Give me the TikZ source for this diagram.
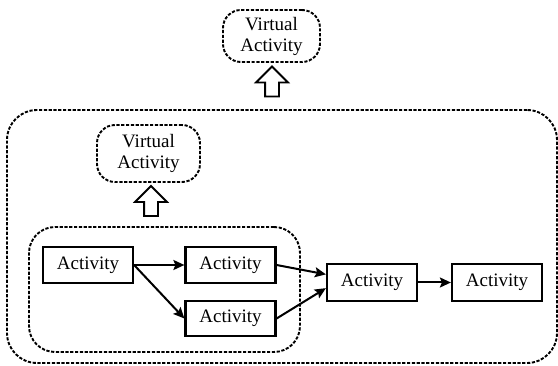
\documentclass[tikz,border=0pt]{standalone}
\usepackage{fontspec}
\setmainfont{Liberation Serif}
\usepackage{tikz}
\usetikzlibrary{
    arrows.meta,
    shapes.arrows
}
\tikzset{
  act/.style    = {draw, line width=2.2pt, minimum width=90pt,
                   minimum height=36pt, inner sep=0pt},
  vact/.style   = {draw, line width=1.9pt, dash pattern=on 3.2pt off 1.6pt,
                   rounded corners=18pt, align=center, inner sep=0pt},
  group/.style  = {draw, line width=1.9pt, dash pattern=on 3.2pt off 1.6pt,
                   inner sep=0pt},
  lift/.style   = {draw, line width=1.9pt, single arrow, shape border rotate=90,
                   minimum height=30pt, minimum width=30pt, inner sep=6pt,
                   single arrow head extend=9pt},
  arr/.style    = {-{Stealth[length=11pt,width=10pt,inset=2pt]}, line width=2pt}
}
\begin{document}
\begin{tikzpicture}[x=1pt, y=-1pt, font=\fontsize{19}{21}\selectfont]
\useasboundingbox (0,0) rectangle (558,366);
% outer group and the group inside it
\node[group, rounded corners=30pt, minimum width=550pt, minimum height=253pt] (outer) at (282,236.5) {};
\node[group, rounded corners=26pt, minimum width=271pt, minimum height=125pt] (inner) at (164.5,289.5) {};
% virtual activities
\node[vact, minimum width=97pt, minimum height=52pt] (va1) at (271.5,36) {Virtual\\Activity};
\node[vact, minimum width=103pt, minimum height=57pt] (va2) at (148.5,153.5) {Virtual\\Activity};
\node[lift] (up1) at (272,85) {};
\node[lift] (up2) at (151,204.5) {};
% activities
\node[act] (a1) at (88,265) {Activity};
\node[act] (a2) at (230.5,265) {Activity};
\node[act, minimum height=35pt] (a3) at (230.5,318.5) {Activity};
\node[act, minimum height=37pt] (a4) at (372,282.5) {Activity};
\node[act, minimum height=37pt] (a5) at (497,282.5) {Activity};
\draw[arr] (a1.east) -- (a2.west);
\draw[arr] (a1.east) -- (a3.west);
\draw[arr] (a2.east) -- (a4.170);
\draw[arr] (a3.east) -- (a4.187);
\draw[arr] (a4) -- (a5);
\end{tikzpicture}
\end{document}
